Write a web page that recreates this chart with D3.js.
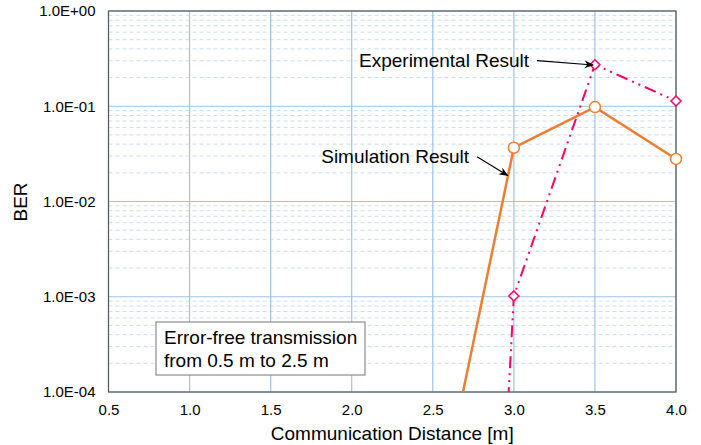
<!DOCTYPE html>
<html lang="en">
<head>
    <meta charset="UTF-8">
    <title>BER vs distance</title>
    <script src="https://d3js.org/d3.v7.min.js"></script>
    <style>
        * { margin: 0; padding: 0; box-sizing: border-box; }
        body { background: #fff; font-family: "Liberation Sans", Arial, sans-serif; }
    </style>
</head>
<body>
    <div id="chart"></div>
    <script>
        // data
        const distance = [2.5, 3.0, 3.5, 4.0];
        const simulation = [3e-6, 0.0367, 0.098, 0.028];
        const experimental = [2e-19, 0.00102, 0.273, 0.1135];
        const xTicks = [0.5, 1.0, 1.5, 2.0, 2.5, 3.0, 3.5, 4.0];
        const yTicks = [1e-4, 1e-3, 1e-2, 1e-1, 1e0];
        const yTickLabels = ["1.0E-04", "1.0E-03", "1.0E-02", "1.0E-01", "1.0E+00"];

        const W = 701, H = 445;
        const margin = { top: 11, right: 25, bottom: 53, left: 108.5 };
        const width = W - margin.left - margin.right;
        const height = H - margin.top - margin.bottom;

        const svg = d3.select("#chart").append("svg")
            .attr("width", W).attr("height", H);

        const defs = svg.append("defs");
        defs.append("clipPath").attr("id", "clip")
            .append("rect").attr("width", width).attr("height", height);
        defs.append("marker")
            .attr("id", "arrow")
            .attr("viewBox", "0 0 10 10")
            .attr("refX", 9).attr("refY", 5)
            .attr("markerWidth", 8).attr("markerHeight", 8)
            .attr("orient", "auto")
            .append("path")
            .attr("d", "M0,1 L10,5 L0,9 L3,5 Z")
            .attr("fill", "#000");

        const g = svg.append("g").attr("transform", `translate(${margin.left},${margin.top})`);

        const x = d3.scaleLinear().domain([0.5, 4.0]).range([0, width]);
        const y = d3.scaleLog().domain([1e-4, 1]).range([height, 0]);

        // minor grid (2..9 in each decade)
        const minor = [];
        for (let e = -4; e < 0; e++) {
            for (let k = 2; k <= 9; k++) minor.push(k * Math.pow(10, e));
        }
        g.selectAll(".minor").data(minor).join("line")
            .attr("x1", 0).attr("x2", width)
            .attr("y1", d => y(d)).attr("y2", d => y(d))
            .attr("stroke", "#c9ddf0").attr("stroke-width", 1)
            .attr("stroke-dasharray", "4,3");

        // major grid
        g.selectAll(".hmajor").data(yTicks).join("line")
            .attr("x1", 0).attr("x2", width)
            .attr("y1", d => y(d)).attr("y2", d => y(d))
            .attr("stroke", "#9dc3e6").attr("stroke-width", 1.2);
        g.selectAll(".vmajor").data(xTicks).join("line")
            .attr("x1", d => x(d)).attr("x2", d => x(d))
            .attr("y1", 0).attr("y2", height)
            .attr("stroke", "#9dc3e6").attr("stroke-width", 1.2);

        // plot border
        g.append("rect")
            .attr("width", width).attr("height", height)
            .attr("fill", "none").attr("stroke", "#595959").attr("stroke-width", 1.2);

        // axes labels
        const xAxis = d3.axisBottom(x).tickValues(xTicks).tickFormat(d3.format(".1f")).tickSize(0).tickPadding(12);
        g.append("g").attr("transform", `translate(0,${height})`).call(xAxis)
            .call(a => a.select(".domain").remove())
            .selectAll("text").attr("font-size", 15).attr("fill", "#000")
            .attr("font-family", "Liberation Sans, Arial, sans-serif");

        const yAxis = d3.axisLeft(y).tickValues(yTicks).tickFormat((d, i) => yTickLabels[i]).tickSize(0).tickPadding(13);
        g.append("g").call(yAxis)
            .call(a => a.select(".domain").remove())
            .selectAll("text").attr("font-size", 15).attr("fill", "#000")
            .attr("font-family", "Liberation Sans, Arial, sans-serif");

        svg.append("text")
            .attr("x", margin.left + width / 2).attr("y", 440)
            .attr("text-anchor", "middle")
            .attr("font-size", 19)
            .text("Communication Distance [m]");

        svg.append("text")
            .attr("transform", "translate(27,202) rotate(-90)")
            .attr("text-anchor", "middle")
            .attr("font-size", 19)
            .text("BER");

        const plot = g.append("g").attr("clip-path", "url(#clip)");

        const line = d3.line().x(d => x(d[0])).y(d => y(d[1]));
        const simPts = distance.map((d, i) => [d, simulation[i]]);
        const expPts = distance.map((d, i) => [d, experimental[i]]);

        plot.append("path")
            .datum(simPts)
            .attr("d", line)
            .attr("fill", "none")
            .attr("stroke", "#ed7d31")
            .attr("stroke-width", 2.5);

        plot.append("path")
            .datum(expPts)
            .attr("d", line)
            .attr("fill", "none")
            .attr("stroke", "#ff0066")
            .attr("stroke-width", 2)
            .attr("stroke-dasharray", "12,5,2,5,2,5");

        // markers (only the ones inside the plot)
        const inside = p => p[1] >= 1e-4;
        g.selectAll(".sim").data(simPts.filter(inside)).join("circle")
            .attr("cx", d => x(d[0])).attr("cy", d => y(d[1]))
            .attr("r", 5.5)
            .attr("fill", "#fff").attr("stroke", "#ed7d31").attr("stroke-width", 1.5);

        g.selectAll(".exp").data(expPts.filter(inside)).join("path")
            .attr("transform", d => `translate(${x(d[0])},${y(d[1])})`)
            .attr("d", "M0,-5 L5,0 L0,5 L-5,0 Z")
            .attr("fill", "#fff").attr("stroke", "#ff0066").attr("stroke-width", 1.5);

        // annotations
        const annotations = [
            { label: "Experimental Result", from: [3.143, 0.301], to: [3.489, 0.271] },
            { label: "Simulation Result", from: [2.773, 0.0295], to: [2.962, 0.0187] }
        ];
        annotations.forEach(a => {
            g.append("line")
                .attr("x1", x(a.from[0])).attr("y1", y(a.from[1]))
                .attr("x2", x(a.to[0])).attr("y2", y(a.to[1]))
                .attr("stroke", "#000").attr("stroke-width", 1.2)
                .attr("marker-end", "url(#arrow)");
            g.append("text")
                .attr("x", x(a.from[0]) - 8).attr("y", y(a.from[1]))
                .attr("dy", "0.35em")
                .attr("text-anchor", "end")
                .attr("font-size", 19)
                .text(a.label);
        });

        // text box
        const box = g.append("g").attr("transform", `translate(${156 - margin.left},${322 - margin.top})`);
        box.append("rect")
            .attr("width", 209).attr("height", 53)
            .attr("fill", "#fff").attr("stroke", "#8c8c8c").attr("stroke-width", 1.2);
        box.append("text").attr("x", 8).attr("y", 22).attr("font-size", 19).text("Error-free transmission");
        box.append("text").attr("x", 8).attr("y", 45).attr("font-size", 19).text("from 0.5 m to 2.5 m");
    </script>
</body>
</html>
